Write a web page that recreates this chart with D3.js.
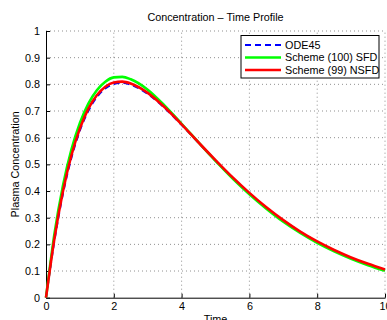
<!DOCTYPE html>
<html><head><meta charset="utf-8">
<script src="https://cdn.jsdelivr.net/npm/d3@7"></script>
<style>
html,body{margin:0;padding:0;background:#fff;}
svg{display:block;font-family:"Liberation Sans",Arial,Helvetica,sans-serif;}
</style></head>
<body><svg id="c" width="387" height="320"></svg>
<script>
const times = [0,0.25,0.5,0.75,1,1.25,1.5,1.75,2,2.25,2.5,3,3.5,4,4.5,5,5.5,6,6.5,7,7.5,8,8.5,9,9.5,10];
const ode45 = [0,0.215,0.390,0.525,0.627,0.701,0.752,0.785,0.801,0.805,0.799,0.764,0.711,0.648,0.581,0.514,0.450,0.391,0.337,0.289,0.247,0.209,0.177,0.149,0.125,0.105];
const sfd   = [0,0.240,0.420,0.555,0.655,0.728,0.778,0.810,0.826,0.828,0.819,0.780,0.720,0.652,0.582,0.513,0.448,0.388,0.334,0.285,0.243,0.206,0.174,0.146,0.122,0.101];
const nsfd  = [0,0.223,0.399,0.534,0.635,0.709,0.759,0.791,0.807,0.810,0.803,0.768,0.714,0.650,0.582,0.516,0.452,0.393,0.339,0.291,0.248,0.211,0.179,0.151,0.127,0.106];
const seriesNames = ["ODE45","Scheme (100) SFD","Scheme (99) NSFD"];
const seriesColors = ["#0000ff","#00ff00","#ff0000"];
const xTicks = [0,2,4,6,8,10];
const yTicks = [0,0.1,0.2,0.3,0.4,0.5,0.6,0.7,0.8,0.9,1];

const svg = d3.select("#c");
const L=46, R=385, T=31, B=297.7;
const x = d3.scaleLinear().domain([0,10]).range([L,R]);
const y = d3.scaleLinear().domain([0,1]).range([B,T]);
const fs = "10.8px";

// grid
const g = svg.append("g");
g.selectAll(".gx").data(xTicks.slice(1)).enter().append("line")
 .attr("x1",d=>x(d)).attr("x2",d=>x(d)).attr("y1",B).attr("y2",T)
 .attr("stroke","#444").attr("stroke-width",0.6).attr("stroke-dasharray","1,3");
g.selectAll(".gy").data(yTicks.slice(1)).enter().append("line")
 .attr("y1",d=>y(d)).attr("y2",d=>y(d)).attr("x1",L).attr("x2",R)
 .attr("stroke","#444").attr("stroke-width",0.6).attr("stroke-dasharray","1,3");

// axes
const xAxis = d3.axisBottom(x).tickValues(xTicks).tickSizeInner(-4).tickSizeOuter(0).tickPadding(6).tickFormat(d3.format("d"));
const yAxis = d3.axisLeft(y).tickValues(yTicks).tickSizeInner(-4).tickSizeOuter(0).tickPadding(6).tickFormat(d=>d===0?"0":d===1?"1":d3.format(".1f")(d));
const ax = svg.append("g").attr("transform",`translate(0,${B})`).call(xAxis);
const ay = svg.append("g").attr("transform",`translate(${L},0)`).call(yAxis);
[ax,ay].forEach(a=>{
  a.select(".domain").attr("stroke","#000").attr("stroke-width",1);
  a.selectAll(".tick line").attr("stroke","#000").attr("stroke-width",1);
  a.selectAll("text").attr("font-size",fs).attr("fill","#000").attr("font-family","Liberation Sans, Arial, sans-serif");
});
ax.selectAll("text").attr("dy","0.71em").attr("y",5);

// lines
const data = [ode45,sfd,nsfd];
const line = d3.line().x((d,i)=>x(times[i])).y(d=>y(d)).curve(d3.curveMonotoneX);
data.forEach((s,k)=>{
  svg.append("path").attr("d",line(s)).attr("fill","none")
   .attr("stroke",seriesColors[k]).attr("stroke-width",k===0?2:2.6)
   .attr("stroke-dasharray",k===0?"6,4":null);
});

// title & labels
svg.append("text").attr("x",(L+R)/2).attr("y",21).attr("text-anchor","middle")
 .attr("font-size",fs).text("Concentration – Time Profile");
svg.append("text").attr("x",(L+R)/2).attr("y",323).attr("text-anchor","middle")
 .attr("font-size",fs).text("Time");
svg.append("text").attr("transform",`translate(19,${(T+B)/2}) rotate(-90)`).attr("text-anchor","middle")
 .attr("font-size",fs).text("Plasma Concentration");

// legend
const lg = svg.append("g");
lg.append("rect").attr("x",241).attr("y",35.5).attr("width",138).attr("height",42.5)
 .attr("fill","#fff").attr("stroke","#000").attr("stroke-width",1);
seriesNames.forEach((n,k)=>{
  const yy = 45 + k*12.5;
  lg.append("line").attr("x1",245).attr("x2",281).attr("y1",yy).attr("y2",yy)
   .attr("stroke",seriesColors[k]).attr("stroke-width",k===0?2:2.6)
   .attr("stroke-dasharray",k===0?"6,4":null);
  lg.append("text").attr("x",285).attr("y",yy).attr("dy","0.35em").attr("font-size",fs).text(n);
});
</script></body></html>
